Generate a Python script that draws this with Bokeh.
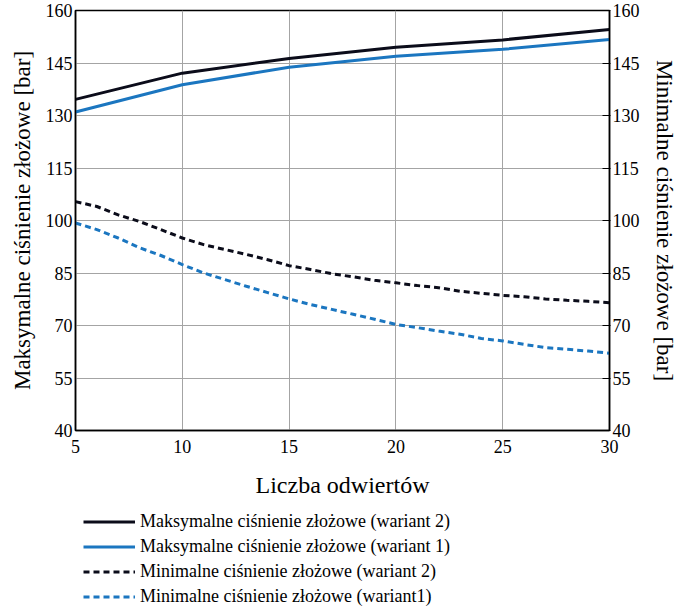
from bokeh.plotting import figure
from bokeh.models import LinearAxis, FixedTicker, Legend, LegendItem, Range1d
from bokeh.layouts import column
from bokeh.embed import file_html
from bokeh.resources import INLINE

# data
x_max = [5, 10, 15, 20, 25, 30]
max_w2 = [134.6, 142.1, 146.3, 149.5, 151.6, 154.6]
max_w1 = [131.0, 138.8, 143.8, 146.9, 148.9, 151.7]
x_min = list(range(5, 31))
min_w2 = [105.4, 104.0, 101.6, 99.7, 97.4, 95.0, 93.1, 91.7, 90.3, 88.8, 87.1, 86.0, 84.8,
          83.9, 82.9, 82.2, 81.4, 80.8, 79.8, 79.2, 78.6, 78.2, 77.6, 77.2, 76.9, 76.5]
min_w1 = [99.3, 97.4, 95.0, 92.2, 90.0, 87.4, 85.0, 83.1, 81.2, 79.4, 77.6, 76.0, 74.6,
          73.2, 71.8, 70.3, 69.4, 68.4, 67.5, 66.3, 65.6, 64.6, 63.7, 63.2, 62.7, 62.1]
x_ticks = [5, 10, 15, 20, 25, 30]
y_ticks = [40, 55, 70, 85, 100, 115, 130, 145, 160]
labels = ["Maksymalne ciśnienie złożowe (wariant 2)",
          "Maksymalne ciśnienie złożowe (wariant 1)",
          "Minimalne ciśnienie złożowe (wariant 2)",
          "Minimalne ciśnienie złożowe (wariant1)"]

FONT = "Liberation Serif"
BLACK = "#0b0c1a"
BLUE = "#1b76c0"
styles = [dict(line_color=BLACK, line_width=3),
          dict(line_color=BLUE, line_width=3),
          dict(line_color=BLACK, line_width=3, line_dash="6 4"),
          dict(line_color=BLUE, line_width=3, line_dash="6 4")]
series = [(x_max, max_w2), (x_max, max_w1), (x_min, min_w2), (x_min, min_w1)]

p = figure(width=680, height=500, output_backend="svg", toolbar_location=None,
           x_range=Range1d(5, 30), y_range=Range1d(40, 160),
           min_border_left=75, min_border_right=71, min_border_top=10, min_border_bottom=69)

p.outline_line_color = "black"
p.outline_line_width = 1.5
p.background_fill_color = "white"
p.border_fill_color = "white"

for (xs, ys), st in zip(series, styles):
    p.line(xs, ys, **st)


def style_axis(ax, label_size):
    ax.axis_label_text_font = FONT
    ax.axis_label_text_font_style = "normal"
    ax.axis_label_text_font_size = label_size
    ax.axis_label_text_color = "black"
    ax.major_label_text_font = FONT
    ax.major_label_text_font_size = "18px"
    ax.major_label_text_color = "black"
    ax.major_tick_in = 0
    ax.major_tick_out = 0
    ax.minor_tick_in = 0
    ax.minor_tick_out = 0
    ax.axis_line_color = "black"
    ax.axis_line_width = 1.5


for ax in p.xaxis:
    ax.ticker = FixedTicker(ticks=x_ticks)
    ax.axis_label = "Liczba odwiertów"
    style_axis(ax, "24px")
    ax.major_label_standoff = 9
    ax.axis_label_standoff = 16

for ax in p.yaxis:
    ax.ticker = FixedTicker(ticks=y_ticks)
    ax.axis_label = "Maksymalne ciśnienie złożowe [bar]"
    style_axis(ax, "23px")
    ax.major_label_standoff = 3
    ax.axis_label_standoff = 8

ry = LinearAxis(ticker=FixedTicker(ticks=y_ticks), axis_label="Minimalne ciśnienie złożowe [bar]")
style_axis(ry, "23px")
ry.major_tick_in = 7
ry.major_tick_out = 1
ry.major_label_standoff = 2
ry.axis_label_standoff = 9
ry.axis_label_orientation = "vertical"
p.add_layout(ry, "right")

p.xgrid.grid_line_color = "#a4a4a4"
p.ygrid.grid_line_color = "#a4a4a4"
p.xgrid.grid_line_width = 1
p.ygrid.grid_line_width = 1

# legend panel below the chart
p2 = figure(width=680, height=109, output_backend="svg", toolbar_location=None,
            x_range=Range1d(1000, 1001), y_range=Range1d(1000, 1001),
            min_border_left=0, min_border_right=0, min_border_top=0, min_border_bottom=0)
p2.axis.visible = False
p2.grid.visible = False
p2.outline_line_color = None
p2.background_fill_color = "white"
p2.border_fill_color = "white"
rs = [p2.line(xs, ys, **st) for (xs, ys), st in zip(series, styles)]

legend = Legend(items=[LegendItem(label=lab, renderers=[r]) for lab, r in zip(labels, rs)],
                location="top_left", orientation="vertical")
legend.label_text_font = FONT
legend.label_text_font_size = "18px"
legend.label_text_color = "black"
legend.glyph_width = 52
legend.glyph_height = 25
legend.label_height = 25
legend.label_standoff = 5
legend.spacing = 0
legend.padding = 0
legend.margin = 0
legend.border_line_color = None
legend.background_fill_alpha = 0
legend.location = (8, 0)
p2.add_layout(legend)

layout = column(p, p2, spacing=0)
open("out.html", "w").write(file_html(layout, INLINE))
